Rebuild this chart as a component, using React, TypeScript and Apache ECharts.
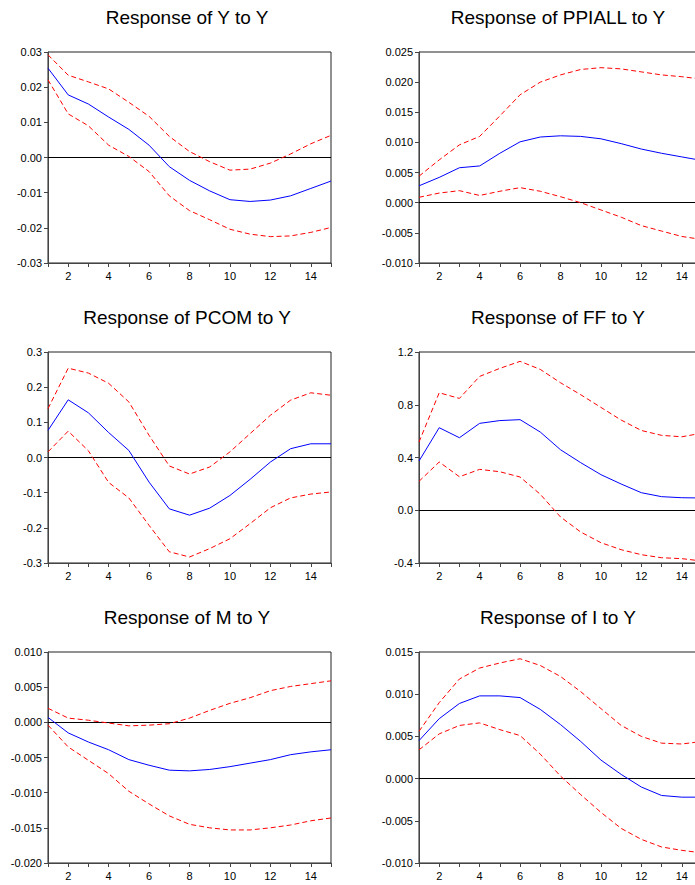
import React, { useEffect, useRef } from "react";
import * as echarts from "echarts";

const periods = [1, 2, 3, 4, 5, 6, 7, 8, 9, 10, 11, 12, 13, 14, 15];

const titles = [
  "Response of Y to Y",
  "Response of PPIALL to Y",
  "Response of PCOM to Y",
  "Response of FF to Y",
  "Response of M to Y",
  "Response of I to Y",
];

// Response of Y to Y
const yToY = [0.0254, 0.0178, 0.0152, 0.0115, 0.008, 0.0035, -0.0026, -0.0065, -0.0095, -0.012, -0.0125, -0.0121, -0.0109, -0.0088, -0.0067];
const yToYUpper = [0.0292, 0.0234, 0.0215, 0.0195, 0.0157, 0.0117, 0.006, 0.0017, -0.0012, -0.0036, -0.0033, -0.0016, 0.001, 0.0039, 0.0063];
const yToYLower = [0.0221, 0.0124, 0.009, 0.0035, 0.0003, -0.004, -0.0109, -0.0151, -0.0177, -0.0204, -0.0218, -0.0225, -0.0223, -0.0213, -0.0199];

// Response of PPIALL to Y
const ppiToY = [0.0028, 0.0042, 0.0058, 0.0061, 0.0082, 0.0101, 0.0109, 0.0111, 0.011, 0.0106, 0.0098, 0.0089, 0.0082, 0.0076, 0.007];
const ppiToYUpper = [0.0044, 0.0071, 0.0096, 0.011, 0.0144, 0.0179, 0.02, 0.0212, 0.0221, 0.0224, 0.0222, 0.0217, 0.0212, 0.0209, 0.0205];
const ppiToYLower = [0.0009, 0.0016, 0.002, 0.0012, 0.0019, 0.0025, 0.0019, 0.001, 0.0, -0.0012, -0.0024, -0.0038, -0.0047, -0.0056, -0.0061];

// Response of PCOM to Y
const pcomToY = [0.077, 0.164, 0.127, 0.071, 0.02, -0.07, -0.146, -0.164, -0.144, -0.108, -0.062, -0.013, 0.025, 0.039, 0.039];
const pcomToYUpper = [0.139, 0.254, 0.24, 0.211, 0.158, 0.063, -0.024, -0.047, -0.027, 0.016, 0.068, 0.12, 0.163, 0.184, 0.177];
const pcomToYLower = [0.016, 0.075, 0.019, -0.071, -0.115, -0.193, -0.268, -0.283, -0.259, -0.231, -0.188, -0.143, -0.115, -0.104, -0.098];

// Response of FF to Y
const ffToY = [0.373, 0.626, 0.55, 0.659, 0.68, 0.687, 0.593, 0.459, 0.361, 0.27, 0.199, 0.133, 0.103, 0.095, 0.093];
const ffToYUpper = [0.517, 0.891, 0.848, 1.015, 1.076, 1.129, 1.068, 0.967, 0.876, 0.78, 0.684, 0.605, 0.568, 0.557, 0.585];
const ffToYLower = [0.219, 0.366, 0.254, 0.31, 0.292, 0.252, 0.121, -0.051, -0.165, -0.246, -0.299, -0.337, -0.36, -0.367, -0.385];

// Response of M to Y
const mToY = [0.0007, -0.0015, -0.0028, -0.0039, -0.0053, -0.0061, -0.0068, -0.0069, -0.0067, -0.0063, -0.0058, -0.0053, -0.0046, -0.0042, -0.0039];
const mToYUpper = [0.002, 0.0006, 0.0003, -0.0001, -0.0005, -0.0004, -0.0002, 0.0006, 0.0017, 0.0027, 0.0035, 0.0045, 0.0051, 0.0055, 0.0059];
const mToYLower = [-0.0004, -0.0035, -0.0054, -0.0073, -0.0098, -0.0116, -0.0133, -0.0145, -0.015, -0.0153, -0.0153, -0.015, -0.0146, -0.014, -0.0136];

// Response of I to Y
const iToY = [0.0045, 0.0071, 0.0089, 0.0098, 0.0098, 0.0096, 0.0082, 0.0064, 0.0044, 0.0022, 0.0005, -0.001, -0.002, -0.0022, -0.0022];
const iToYUpper = [0.0056, 0.009, 0.0118, 0.0131, 0.0137, 0.0142, 0.0134, 0.0121, 0.0103, 0.0083, 0.0063, 0.005, 0.0042, 0.0041, 0.0044];
const iToYLower = [0.0034, 0.0053, 0.0063, 0.0066, 0.0058, 0.0051, 0.0029, 0.0003, -0.0019, -0.004, -0.0059, -0.0072, -0.0081, -0.0085, -0.0088];

// y-axis tick ranges: [min, max, interval, decimals]
const yMins = [-0.03, -0.01, -0.3, -0.4, -0.02, -0.01];
const yMaxs = [0.03, 0.025, 0.3, 1.2, 0.01, 0.015];
const yIntervals = [0.01, 0.005, 0.1, 0.4, 0.005, 0.005];
const yDecimals = [2, 3, 1, 1, 3, 3];

const panels = [
  [yToY, yToYUpper, yToYLower],
  [ppiToY, ppiToYUpper, ppiToYLower],
  [pcomToY, pcomToYUpper, pcomToYLower],
  [ffToY, ffToYUpper, ffToYLower],
  [mToY, mToYUpper, mToYLower],
  [iToY, iToYUpper, iToYLower],
];

const FONT = "'Liberation Sans', Arial, Helvetica, sans-serif";

export default function App() {
  const ref = useRef<HTMLDivElement>(null);

  useEffect(() => {
    if (!ref.current) return;
    const chart = echarts.init(ref.current, undefined, { renderer: "svg" });

    const colLeft = [48, 419];
    const rowTop = [52, 352, 652];
    const titleX = [187, 558];
    const titleY = [17, 317, 617];
    const gw = 283;
    const gh = 211;

    const grids: any[] = [];
    const xAxes: any[] = [];
    const yAxes: any[] = [];
    const series: any[] = [];
    const graphics: any[] = [];

    panels.forEach((p, i) => {
      const col = i % 2;
      const row = Math.floor(i / 2);
      grids.push({
        left: colLeft[col],
        top: rowTop[row],
        width: gw,
        height: gh,
        show: true,
        borderColor: "#222",
        borderWidth: 1,
        backgroundColor: "transparent",
        containLabel: false,
        outerBoundsMode: "none",
      });
      xAxes.push({
        type: "value",
        gridIndex: i,
        min: 1,
        max: 15,
        interval: 1,
        axisLine: { show: true, onZero: false, lineStyle: { color: "#444", width: 1 } },
        axisTick: { show: true, inside: false, length: 4, lineStyle: { color: "#444" } },
        axisLabel: {
          show: true,
          margin: 7,
          color: "#000",
          fontSize: 11,
          fontFamily: FONT,
          hideOverlap: false,
          formatter: (v: number) => (v % 2 === 0 ? String(v) : ""),
        },
        splitLine: { show: false },
      });
      const dec = yDecimals[i];
      yAxes.push({
        type: "value",
        gridIndex: i,
        min: yMins[i],
        max: yMaxs[i],
        interval: yIntervals[i],
        axisLine: { show: true, onZero: false, lineStyle: { color: "#444", width: 1 } },
        axisTick: { show: true, inside: false, length: 4, lineStyle: { color: "#444" } },
        axisLabel: {
          show: true,
          margin: 6,
          color: "#000",
          fontSize: 11,
          fontFamily: FONT,
          formatter: (v: number) => (Math.abs(v) < 1e-12 ? 0 : v).toFixed(dec),
        },
        splitLine: { show: false },
      });
      const [mid, up, lo] = p;
      series.push({
        type: "line",
        xAxisIndex: i,
        yAxisIndex: i,
        data: periods.map((x, k) => [x, mid[k]]),
        showSymbol: false,
        symbol: "none",
        lineStyle: { color: "#0000ff", width: 1 },
        z: 3,
        markLine: {
          silent: true,
          symbol: "none",
          label: { show: false },
          lineStyle: { color: "#000", width: 1, type: "solid" },
          data: [{ yAxis: 0 }],
          z: 2,
        },
      });
      series.push({
        type: "line",
        xAxisIndex: i,
        yAxisIndex: i,
        data: periods.map((x, k) => [x, up[k]]),
        showSymbol: false,
        symbol: "none",
        lineStyle: { color: "#ff0000", width: 1, type: [5, 3] },
        z: 3,
      });
      series.push({
        type: "line",
        xAxisIndex: i,
        yAxisIndex: i,
        data: periods.map((x, k) => [x, lo[k]]),
        showSymbol: false,
        symbol: "none",
        lineStyle: { color: "#ff0000", width: 1, type: [5, 3] },
        z: 3,
      });
      graphics.push({
        type: "text",
        x: titleX[col],
        y: titleY[row],
        style: {
          text: titles[i],
          fill: "#000",
          font: `19px ${FONT}`,
          textAlign: "center",
          textVerticalAlign: "middle",
        },
      });
    });

    chart.setOption({
      animation: false,
      backgroundColor: "#fff",
      grid: grids,
      xAxis: xAxes,
      yAxis: yAxes,
      series,
      graphic: graphics,
    });

    return () => chart.dispose();
  }, []);

  return (
    <div
      ref={ref}
      style={{ position: "absolute", left: 0, top: 0, width: 695, height: 885 }}
    />
  );
}
